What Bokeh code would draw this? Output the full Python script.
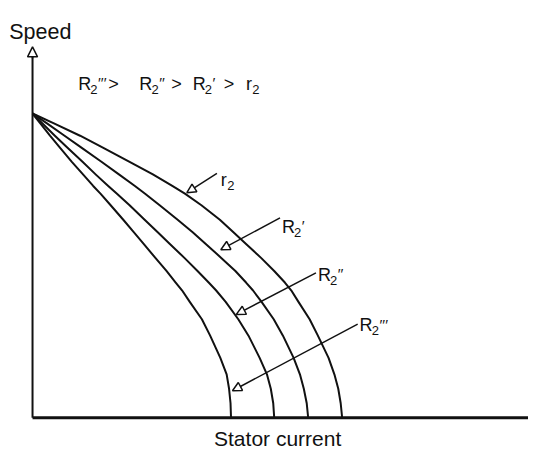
from bokeh.plotting import figure
from bokeh.models import Range1d, Label, Arrow, NormalHead
from bokeh.embed import file_html
from bokeh.resources import INLINE

# ---- data: speed levels and stator current of each curve ----
speed = [315, 305, 292, 280, 265, 252, 240, 232, 220, 205, 192, 180, 165, 152,
         140, 132, 120, 102, 85, 62, 45, 30, 15, 0]
current_r2 = [0, 21.5, 49, 72, 100, 124, 144, 157, 174, 193, 207, 220, 236, 249,
              260, 266.5, 274, 285.5, 294, 305, 311, 315, 317.5, 319]
current_R2p = [0, 14.5, 33, 50, 71, 89, 105.5, 116, 131, 149.5, 165, 178.5, 195, 209,
               220, 227, 236, 248.5, 258, 269, 275.5, 279.5, 282.5, 284]
current_R2pp = [0, 10, 23, 35.5, 51.5, 65, 78, 87, 100, 115.5, 129, 141.5, 157, 170,
                181.5, 189, 199, 212, 222.5, 234, 241.5, 245.5, 248, 249]
current_R2ppp = [0, 7.8, 18, 28, 40.5, 52, 62.5, 70, 80.5, 93.5, 104.5, 114.5, 127, 138,
                 147.5, 154, 162, 174.5, 183, 193.5, 200, 202.5, 204, 204.5]

FONT = "Liberation Sans"
INK = "#111111"

# annotation positions are given in reference-picture pixels
OX, OY = 33, 432
def X(px):
    return px - OX
def Y(py):
    return OY - py

p = figure(width=528, height=453, output_backend="svg", toolbar_location=None,
           x_range=Range1d(X(0), X(544)), y_range=Range1d(Y(469), Y(0)),
           min_border=0, outline_line_color=None)
p.xaxis.visible = False
p.yaxis.visible = False
p.xgrid.visible = False
p.ygrid.visible = False
p.background_fill_color = "white"
p.border_fill_color = "white"

# curves
for cur in (current_r2, current_R2p, current_R2pp, current_R2ppp):
    p.line(cur, speed, line_color=INK, line_width=2, line_join="round")

# axes drawn as lines
p.line([0, 0], [0, Y(57)], line_color=INK, line_width=2)
p.line([0, X(560)], [0, 0], line_color=INK, line_width=3)
p.add_layout(Arrow(end=NormalHead(size=10, fill_color="white", line_color=INK, line_width=1.5),
                   x_start=0, y_start=Y(60), x_end=0, y_end=Y(48),
                   line_color=INK, line_width=1.5))

# pointer arrows
pointers = [((223, 179), (192, 199)),
            ((288, 225), (227, 258)),
            ((325, 282), (243, 325)),
            ((368, 335), (239, 404))]
for (tx, ty), (hx, hy) in pointers:
    p.add_layout(Arrow(end=NormalHead(size=9, fill_color="white", line_color=INK, line_width=1.5),
                       x_start=X(tx), y_start=Y(ty), x_end=X(hx), y_end=Y(hy),
                       line_color=INK, line_width=1.5))

def txt(px, py, s, size):
    p.add_layout(Label(x=X(px), y=Y(py), text=s, text_font=FONT,
                       text_font_size=f"{size}px", text_color=INK,
                       text_baseline="alphabetic", text_align="left"))

def term(px, base, letter, nprimes, size=18):
    lw = 12.5 if letter == "R" else 6.5
    txt(px, base, letter, size)
    txt(px + lw, base + 6, "2", 13)
    if nprimes:
        txt(px + lw + 8, base - 1, "\u2032" * nprimes, 15)

# inequality
term(80, 86, "R", 3)
txt(111, 86, ">", 18)
term(143, 86, "R", 2)
txt(176, 86, ">", 18)
term(198, 86, "R", 1)
txt(230, 86, ">", 18)
term(253, 86, "r", 0)

# curve labels
term(227, 186, "r", 0)
term(290, 234, "R", 1)
term(327, 284, "R", 2)
term(370, 336, "R", 3)

# axis titles
txt(9, 33, "Speed", 21.5)
txt(220, 453, "Stator current", 21)

open("out.html", "w").write(file_html(p, INLINE))
